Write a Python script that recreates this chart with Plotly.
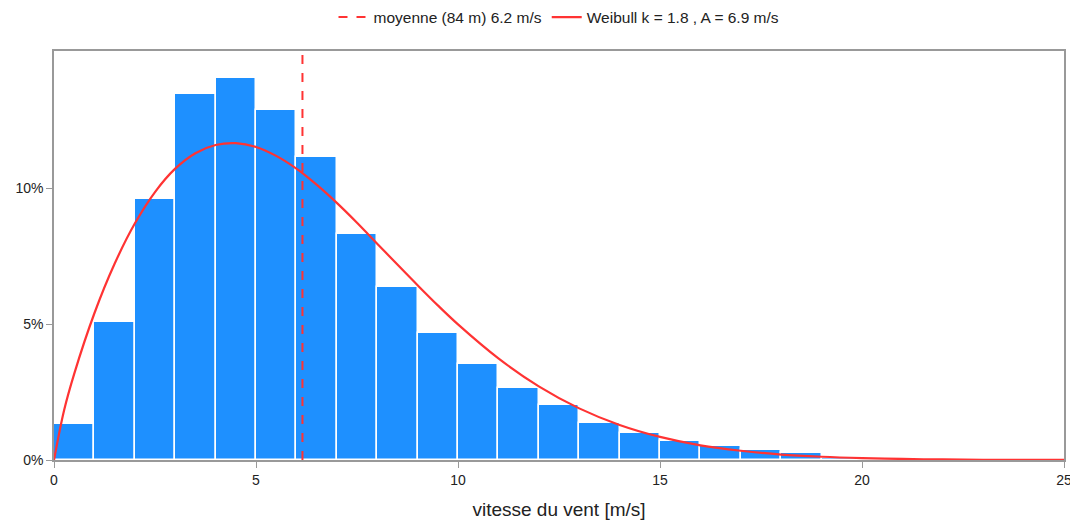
import plotly.graph_objects as go

# histogram bins (m/s) and frequencies (%)
bin_left = [0, 1, 2, 3, 4, 5, 6, 7, 8, 9, 10, 11, 12, 13, 14, 15, 16, 17, 18, 19]
freq_pct = [1.32, 5.07, 9.6, 13.46, 14.04, 12.87, 11.14, 8.31, 6.36, 4.67,
            3.53, 2.65, 2.02, 1.36, 0.99, 0.71, 0.50, 0.38, 0.24, 0.07]

# Weibull curve points (%)
curve_x = [0, 0.25, 0.5, 1, 1.5, 2, 2.5, 3, 3.5, 4, 4.5, 5, 5.5, 6, 6.5, 7, 7.5, 8,
           8.5, 9, 9.5, 10, 11, 12, 13, 14, 15, 16, 17, 18, 19, 20, 21, 22, 23, 24, 25]
curve_y = [0, 1.83, 3.17, 5.40, 7.22, 8.70, 9.86, 10.72, 11.29, 11.59, 11.66, 11.52,
           11.19, 10.72, 10.13, 9.46, 8.73, 7.96, 7.19, 6.43, 5.69, 4.99, 3.74, 2.71,
           1.90, 1.29, 0.85, 0.54, 0.34, 0.20, 0.12, 0.069, 0.038, 0.020, 0.010, 0.005, 0.0024]

y_tickvals = [0, 5, 10]
y_ticktext = ["0%", "5%", "10%"]
x_tickvals = [0, 5, 10, 15, 20, 25]

mean_speed = 6.15
mean_label = "moyenne (84 m) 6.2 m/s"
weibull_label = "Weibull k = 1.8 , A = 6.9 m/s"
x_title = "vitesse du vent [m/s]"

fig = go.Figure()
fig.add_trace(go.Bar(
    x=[b + 0.5 for b in bin_left], y=freq_pct, width=1,
    marker=dict(color="#1E90FF", line=dict(color="white", width=1.5)),
    showlegend=False, hoverinfo="skip"))
fig.add_trace(go.Scatter(
    x=[mean_speed, mean_speed], y=[0, 15.05], mode="lines",
    line=dict(color="#FF3333", width=2, dash="dash"), name=mean_label))
fig.add_trace(go.Scatter(
    x=curve_x, y=curve_y, mode="lines", line_shape="spline",
    line=dict(color="#FF3333", width=2.2), name=weibull_label))

axis_common = dict(showline=True, linecolor="#999999", linewidth=1.5, mirror=True,
                   ticks="outside", tickcolor="#999999", ticklen=6, showgrid=False,
                   zeroline=False, automargin=False, tickfont=dict(size=14, color="#222"))
# page body has an 8px margin: size and margins compensate for it
fig.update_layout(
    width=1070, height=517,
    margin=dict(l=46, r=14, t=43, b=65, autoexpand=False),
    paper_bgcolor="white", plot_bgcolor="white",
    font=dict(family="Liberation Sans, Arial, sans-serif", color="#222"),
    bargap=0,
    legend=dict(orientation="h", x=0.5, xanchor="center", y=1.082, yanchor="middle",
                font=dict(size=15.5)),
    xaxis=dict(range=[0, 25], tickvals=x_tickvals,
               title=dict(text=x_title, font=dict(size=19), standoff=16), **axis_common),
    yaxis=dict(range=[0, 15.05], tickvals=y_tickvals, ticktext=y_ticktext, **axis_common),
)
fig.write_html("out.html")
